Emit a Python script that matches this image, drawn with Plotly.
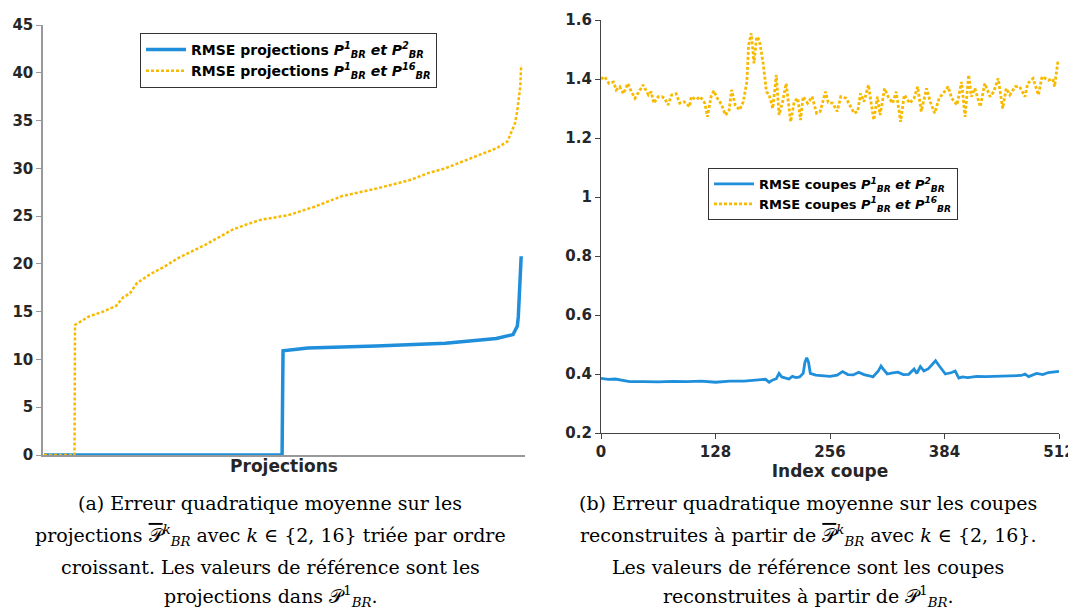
import plotly.graph_objects as go

# ---------------- Left panel data (sorted RMSE on projections) ----------------
proj_rank_2 = [0, 499, 500, 501, 553, 696, 841, 948, 983, 992, 994, 997, 1000]
rmse_proj_2 = [0, 0, 5.8, 10.9, 11.2, 11.4, 11.7, 12.2, 12.6, 13.5, 14.5, 18.7, 20.8]

proj_rank_16 = [0, 64, 64.5, 65, 94, 124, 151, 166, 180, 195, 222, 252, 281, 338, 367,
                396, 423, 453, 512, 568, 625, 698, 769, 805, 841, 912, 948, 971, 987,
                992, 998, 1000]
rmse_proj_16 = [0, 0, 6.3, 13.6, 14.5, 15.0, 15.6, 16.5, 16.9, 18.0, 18.9, 19.7, 20.6,
                22.0, 22.8, 23.6, 24.1, 24.6, 25.1, 26.0, 27.1, 27.9, 28.8, 29.5, 30.0,
                31.4, 32.1, 32.8, 34.7, 36.1, 38.5, 40.8]

# ---------------- Right panel data (RMSE per reconstructed slice) ----------------
coupe_idx_2 = [0, 8, 16, 24, 32, 48, 64, 80, 96, 112, 128, 144, 160, 176, 184, 188, 192,
               196, 199, 202, 206, 210, 214, 218, 222, 226, 228, 230, 232, 234, 240, 248,
               256, 264, 270, 276, 282, 288, 294, 300, 304, 310, 313, 316, 320, 326, 332,
               338, 344, 350, 353, 357, 361, 366, 370, 374, 378, 385, 392, 396, 400, 404,
               410, 420, 430, 440, 450, 460, 470, 474, 478, 487, 494, 500, 507, 512]
rmse_coupe_2 = [0.385, 0.382, 0.383, 0.378, 0.374, 0.374, 0.373, 0.375, 0.374, 0.376,
                0.372, 0.376, 0.376, 0.380, 0.382, 0.372, 0.380, 0.384, 0.402, 0.390,
                0.386, 0.383, 0.392, 0.388, 0.390, 0.402, 0.440, 0.455, 0.440, 0.402,
                0.396, 0.393, 0.392, 0.396, 0.408, 0.398, 0.397, 0.406, 0.398, 0.394,
                0.390, 0.410, 0.427, 0.415, 0.400, 0.404, 0.406, 0.398, 0.399, 0.417,
                0.402, 0.425, 0.410, 0.418, 0.430, 0.445, 0.428, 0.400, 0.405, 0.410,
                0.386, 0.390, 0.388, 0.392, 0.391, 0.392, 0.391, 0.393, 0.395, 0.400,
                0.391, 0.402, 0.398, 0.405, 0.408, 0.409]

coupe_idx_16 = [0, 4, 9, 14, 17, 21, 25, 30, 34, 38, 41, 47, 53, 56, 59, 64, 68, 71, 75,
                79, 84, 88, 93, 99, 101, 106, 111, 116, 119, 123, 126, 130, 135, 139, 143,
                146, 150, 155, 159, 163, 165, 168, 171, 174, 177, 181, 185, 188, 192, 196,
                199, 203, 207, 209, 212, 216, 220, 223, 226, 231, 236, 241, 245, 251, 254,
                259, 264, 268, 274, 277, 283, 287, 290, 294, 299, 302, 305, 309, 312, 317,
                321, 326, 330, 335, 339, 345, 350, 354, 358, 364, 368, 373, 378, 384, 388,
                392, 398, 403, 407, 411, 414, 418, 424, 429, 435, 439, 444, 449, 453, 457,
                463, 468, 474, 477, 483, 489, 493, 500, 505, 507, 511]
rmse_coupe_16 = [1.400, 1.408, 1.385, 1.390, 1.363, 1.374, 1.350, 1.385, 1.357, 1.335,
                 1.350, 1.380, 1.346, 1.357, 1.318, 1.340, 1.340, 1.335, 1.312, 1.346,
                 1.350, 1.318, 1.323, 1.306, 1.340, 1.330, 1.340, 1.318, 1.272, 1.340,
                 1.360, 1.335, 1.312, 1.278, 1.290, 1.363, 1.312, 1.295, 1.323, 1.390,
                 1.515, 1.555, 1.453, 1.543, 1.532, 1.459, 1.357, 1.346, 1.300, 1.414,
                 1.278, 1.323, 1.385, 1.323, 1.255, 1.323, 1.335, 1.261, 1.340, 1.318,
                 1.340, 1.284, 1.290, 1.357, 1.320, 1.318, 1.290, 1.340, 1.335, 1.318,
                 1.284, 1.290, 1.351, 1.323, 1.380, 1.318, 1.261, 1.340, 1.278, 1.368,
                 1.340, 1.318, 1.357, 1.255, 1.346, 1.318, 1.335, 1.374, 1.290, 1.368,
                 1.323, 1.284, 1.335, 1.357, 1.374, 1.335, 1.312, 1.390, 1.272, 1.414,
                 1.340, 1.368, 1.306, 1.385, 1.340, 1.357, 1.402, 1.300, 1.368, 1.346,
                 1.374, 1.374, 1.340, 1.385, 1.402, 1.346, 1.408, 1.396, 1.400, 1.374,
                 1.464]

y_ticks_left = [0, 5, 10, 15, 20, 25, 30, 35, 40, 45]
x_ticks_right = [0, 128, 256, 384, 512]
y_ticks_right = [0.2, 0.4, 0.6, 0.8, 1.0, 1.2, 1.4, 1.6]
y_ticklabels_right = ["0.2", "0.4", "0.6", "0.8", "1", "1.2", "1.4", "1.6"]

BLUE = "#1F8FDB"
GOLD = "#F8BA00"
DASH = "3px,2px"
OFF = 8                      # page body margin
W, H = 1076 - OFF, 610 - OFF


def px(X):
    return (X - OFF) / W


def py(Y):
    return 1 - (Y - OFF) / H


def leg(name, k):
    return ("RMSE " + name + " <i>P</i><sup><i>1</i></sup><sub><i>BR</i></sub>"
            " <i>et P</i><sup><i>" + k + "</i></sup><sub><i>BR</i></sub>")


fig = go.Figure()
fig.add_trace(go.Scatter(x=proj_rank_2, y=rmse_proj_2, mode="lines",
                         line=dict(color=BLUE, width=3.5), name=leg("projections", "2"),
                         xaxis="x", yaxis="y", legend="legend"))
fig.add_trace(go.Scatter(x=proj_rank_16, y=rmse_proj_16, mode="lines",
                         line=dict(color=GOLD, width=2.5, dash=DASH),
                         name=leg("projections", "16"),
                         xaxis="x", yaxis="y", legend="legend"))
fig.add_trace(go.Scatter(x=coupe_idx_2, y=rmse_coupe_2, mode="lines",
                         line=dict(color=BLUE, width=2.8), name=leg("coupes", "2"),
                         xaxis="x2", yaxis="y2", legend="legend2"))
fig.add_trace(go.Scatter(x=coupe_idx_16, y=rmse_coupe_16, mode="lines",
                         line=dict(color=GOLD, width=2.8, dash=DASH),
                         name=leg("coupes", "16"),
                         xaxis="x2", yaxis="y2", legend="legend2"))

tickfont = dict(family="DejaVu Sans", size=15, color="#262626", weight="bold")
titlefont = dict(family="DejaVu Sans", size=17, color="#262626", weight="bold")

fig.update_layout(
    width=W, height=H,
    margin=dict(l=0, r=0, t=0, b=0, autoexpand=False),
    paper_bgcolor="white", plot_bgcolor="white",
    font=dict(family="DejaVu Sans"),
    xaxis=dict(domain=[px(43), px(525)], range=[-2, 1008], showgrid=False,
               zeroline=False, showline=True, linecolor="#999999", linewidth=1.5,
               showticklabels=False, ticks="", automargin=False,
               title=dict(text="Projections", font=titlefont, standoff=4)),
    yaxis=dict(domain=[py(455), py(25)], range=[0, 45], tickvals=y_ticks_left,
               showgrid=False, zeroline=False, showline=True, linecolor="#999999",
               linewidth=1.5, ticks="outside", ticklen=5, tickcolor="#999999",
               tickfont=tickfont, automargin=False),
    xaxis2=dict(domain=[px(601), px(1059)], range=[0, 512], tickvals=x_ticks_right,
                showgrid=False, zeroline=False, showline=True, linecolor="#444444",
                linewidth=1.2, ticks="outside", ticklen=5, tickcolor="#444444",
                tickfont=tickfont, anchor="y2", automargin=False,
                title=dict(text="Index coupe", font=titlefont, standoff=0)),
    yaxis2=dict(domain=[py(433), py(20)], range=[0.2, 1.6], tickvals=y_ticks_right,
                ticktext=y_ticklabels_right,
                showgrid=False, zeroline=False, showline=True, linecolor="#444444",
                linewidth=1.2, ticks="outside", ticklen=5, tickcolor="#444444",
                tickfont=tickfont, anchor="x2", automargin=False),
    legend=dict(x=px(140), y=py(33), xanchor="left", yanchor="top",
                bgcolor="white", bordercolor="#333333", borderwidth=1,
                font=dict(family="DejaVu Sans", size=14, color="black", weight="bold"),
                itemwidth=40, tracegroupgap=0),
    legend2=dict(x=px(708), y=py(168), xanchor="left", yanchor="top",
                 bgcolor="white", bordercolor="#333333", borderwidth=1,
                 font=dict(family="DejaVu Sans", size=13, color="black", weight="bold"),
                 itemwidth=40, tracegroupgap=0),
    showlegend=True,
)

P_bar = "<span style='text-decoration:overline'>𝒫</span>"
cap_font = dict(family="DejaVu Serif", size=19, color="black")
caption_a = ["(a) Erreur quadratique moyenne sur les",
             "projections " + P_bar + "<sup><i>k</i></sup><sub><i>BR</i></sub> avec <i>k</i> ∈ {2, 16} triée par ordre",
             "croissant. Les valeurs de référence sont les",
             "projections dans 𝒫<sup>1</sup><sub><i>BR</i></sub>."]
caption_b = ["(b) Erreur quadratique moyenne sur les coupes",
             "reconstruites à partir de " + P_bar + "<sup><i>k</i></sup><sub><i>BR</i></sub> avec <i>k</i> ∈ {2, 16}.",
             "Les valeurs de référence sont les coupes",
             "reconstruites à partir de 𝒫<sup>1</sup><sub><i>BR</i></sub>."]
line_y = [503, 535, 567, 596]
for cx, lines in ((270, caption_a), (808, caption_b)):
    for txt, yy in zip(lines, line_y):
        fig.add_annotation(x=px(cx), y=py(yy), xref="paper", yref="paper",
                           text=txt, showarrow=False, font=cap_font,
                           xanchor="center", yanchor="middle")

fig.write_html("out.html")
